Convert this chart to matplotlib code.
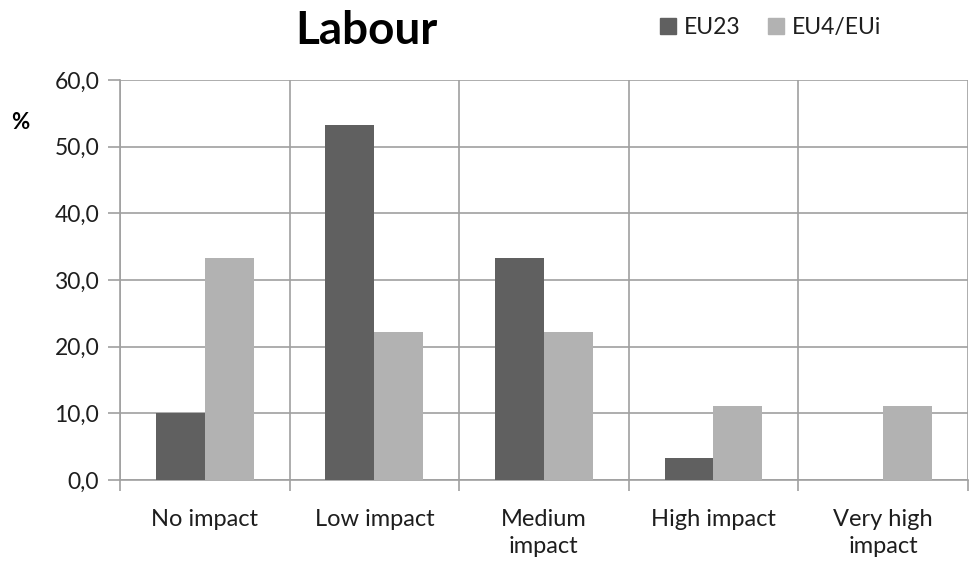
import matplotlib.pyplot as plt
import numpy as np
from matplotlib.patches import Patch
from matplotlib.ticker import FuncFormatter, MultipleLocator

plt.rcParams['font.family'] = ['Lato', 'DejaVu Sans']

categories = ['No impact', 'Low impact', 'Medium\nimpact', 'High impact', 'Very high\nimpact']
eu23 = [10.0, 53.3, 33.3, 3.3, 0.0]
eu4_eui = [33.3, 22.2, 22.2, 11.1, 11.1]
series_names = ['EU23', 'EU4/EUi']

dark = '#606060'
light = '#B2B2B2'
grid = '#A0A0A0'
text_col = '#1E1E1E'

fig = plt.figure(figsize=(9.69, 5.64), dpi=100)
ax = fig.add_axes([0.1238, 0.149, 0.875, 0.709])

x = np.arange(len(categories))
w = 0.288
ax.bar(x - w / 2, eu23, w, color=dark, zorder=3)
ax.bar(x + w / 2, eu4_eui, w, color=light, zorder=3)

ax.set_xlim(-0.5, len(categories) - 0.5)
ax.set_ylim(0, 60)
ax.yaxis.set_major_locator(MultipleLocator(10))
ax.yaxis.set_major_formatter(FuncFormatter(lambda v, _: f'{v:.1f}'.replace('.', ',')))

# category labels centred, separators drawn on the minor ticks
ax.set_xticks(x)
ax.set_xticklabels(categories, fontsize=17, color=text_col, linespacing=1.35)
ax.set_xticks(np.arange(-0.5, len(categories)), minor=True)
ax.tick_params(axis='x', which='major', length=0, pad=21)
ax.tick_params(axis='x', which='minor', length=8, color=grid, width=1.2)
ax.tick_params(axis='y', length=9, color=grid, width=1.2, labelsize=16.5,
               labelcolor=text_col, pad=6)

ax.grid(axis='y', which='major', color=grid, lw=1.2, zorder=0)
ax.grid(axis='x', which='minor', color=grid, lw=1.2, zorder=0)
for side in ['top', 'right']:
    ax.spines[side].set_visible(False)
for side in ['left', 'bottom']:
    ax.spines[side].set_color(grid)
    ax.spines[side].set_linewidth(1.2)

fig.text(0.011, 0.783, '%', fontsize=16, fontweight='bold', ha='left', va='center')
fig.text(0.378, 0.945, 'Labour', fontsize=33, fontweight='bold', ha='center', va='center')

handles = [Patch(color=dark), Patch(color=light)]
fig.legend(handles, series_names, loc='center', bbox_to_anchor=(0.795, 0.952), ncol=2,
           frameon=False, fontsize=16.5, handlelength=0.7, handleheight=0.7,
           handletextpad=0.35, columnspacing=1.2, labelcolor=text_col)

fig.savefig('out.png', dpi=100)
